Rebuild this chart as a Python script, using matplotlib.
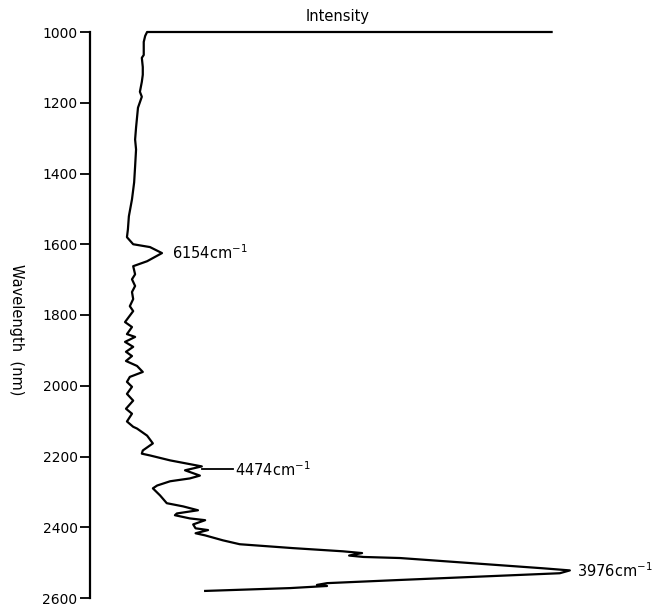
import matplotlib
matplotlib.use("Agg")
import matplotlib.pyplot as plt

# Spectrum: wavelength (nm) vs intensity (arbitrary units, peak = 100)
wavelength = [1000, 1000, 1011, 1028, 1065, 1073, 1099, 1121, 1141, 1169, 1183, 1214, 1242, 1270,
              1304, 1332, 1380, 1425, 1473, 1521, 1558, 1580, 1600, 1608, 1625, 1648, 1662, 1685,
              1699, 1718, 1735, 1755, 1775, 1789, 1820, 1834, 1854, 1862, 1876, 1890, 1904, 1916,
              1930, 1944, 1961, 1975, 1989, 2003, 2023, 2042, 2065, 2079, 2101, 2116, 2121, 2141,
              2163, 2183, 2192, 2197, 2211, 2220, 2228, 2239, 2254, 2262, 2270, 2282, 2290, 2310,
              2332, 2341, 2352, 2361, 2366, 2375, 2380, 2392, 2403, 2408, 2417, 2423, 2437, 2448,
              2459, 2468, 2473, 2480, 2484, 2487, 2516, 2522, 2530, 2549, 2558, 2563, 2566, 2572,
              2580]
intensity = [96.2, 11.9, 11.5, 11.2, 11.2, 10.8, 11.0, 11.0, 10.8, 10.4, 10.8, 10.0, 9.8, 9.6,
             9.4, 9.6, 9.4, 9.2, 8.75, 8.1, 7.9, 7.7, 9.0, 12.5, 15.0, 11.9, 9.0, 9.4,
             8.75, 9.4, 8.75, 9.0, 8.3, 9.0, 7.3, 8.75, 7.7, 9.4, 7.3, 9.0, 7.5, 8.75,
             7.5, 9.8, 11.0, 8.3, 7.7, 8.75, 7.7, 9.0, 7.5, 8.75, 7.7, 9.0, 9.8, 11.9,
             13.1, 11.0, 10.8, 12.5, 16.7, 20.2, 23.3, 19.8, 22.9, 20.8, 16.7, 14.0, 13.1, 14.6,
             16.0, 19.4, 22.5, 18.1, 17.7, 20.8, 24.0, 21.5, 22.0, 24.6, 22.0, 24.0, 27.7, 31.2,
             42.3, 52.7, 56.7, 54.0, 57.0, 64.6, 94.4, 100.0, 97.9, 64.6, 49.4, 47.3, 49.4, 41.7,
             24.0]

yticks = [1000, 1200, 1400, 1600, 1800, 2000, 2200, 2400, 2600]

peak_labels = ["6154cm$^{-1}$", "4474cm$^{-1}$", "3976cm$^{-1}$"]
peak_wavelengths = [1625, 2236, 2522]
peak_tips = [15.0, 23.3, 100.0]

fig = plt.figure(figsize=(6.61, 6.06), dpi=100)
ax = fig.add_axes([90 / 661, 8 / 606, 1 - 90 / 661, 1 - 40 / 606])

ax.plot(intensity, wavelength, color="black", lw=1.6, solid_joinstyle="round", clip_on=False)

ax.set_ylim(2600, 1000)
ax.set_xlim(0, 119)
ax.set_yticks(yticks)
ax.set_yticklabels([str(t) for t in yticks], fontsize=10)
ax.set_xticks([])
for s in ["top", "right", "bottom"]:
    ax.spines[s].set_visible(False)
ax.spines["left"].set_linewidth(1.6)
ax.tick_params(axis="y", direction="out", length=7, width=1.3, pad=2)

# peak annotations
ax.text(peak_tips[0] + 2.0, peak_wavelengths[0], peak_labels[0], fontsize=10.5,
        va="center", ha="left")
ax.plot([peak_tips[1], peak_tips[1] + 6.5], [peak_wavelengths[1], peak_wavelengths[1]],
        color="black", lw=1.3)
ax.text(peak_tips[1] + 7.0, peak_wavelengths[1], peak_labels[1], fontsize=10.5,
        va="center", ha="left")
ax.text(peak_tips[2] + 1.4, peak_wavelengths[2], peak_labels[2], fontsize=10.5,
        va="center", ha="left", clip_on=False)

fig.text(338 / 661, 1 - 17 / 606, "Intensity", fontsize=10.5, ha="center", va="center")
fig.text(16 / 661, 1 - 330 / 606, "Wavelength  (nm)", fontsize=10.5, rotation=270,
         ha="center", va="center")

fig.savefig("out.png", dpi=100)
